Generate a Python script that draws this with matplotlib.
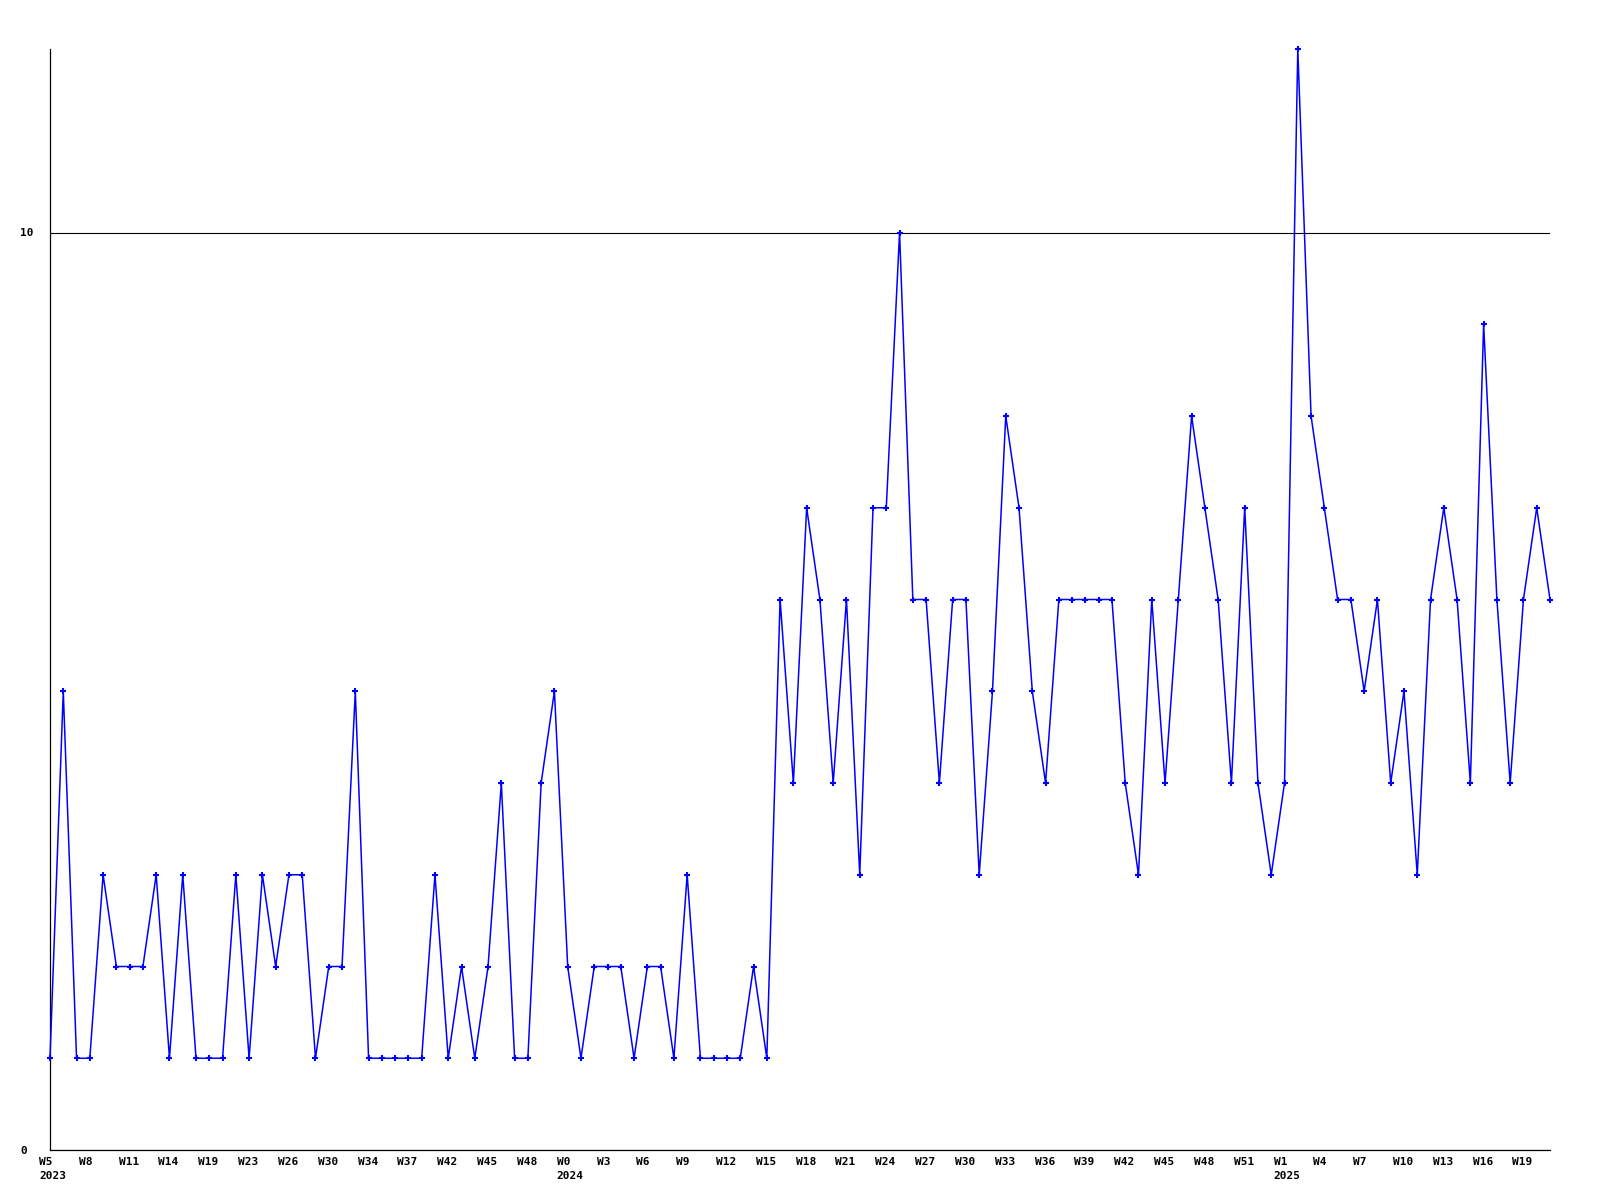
import matplotlib
matplotlib.use("Agg")
import matplotlib.pyplot as plt
from matplotlib.transforms import ScaledTranslation

# ---- data -------------------------------------------------------------
values = [1, 5, 1, 1, 3, 2, 2, 2, 3, 1,
          3, 1, 1, 1, 3, 1, 3, 2, 3, 3,
          1, 2, 2, 5, 1, 1, 1, 1, 1, 3,
          1, 2, 1, 2, 4, 1, 1, 4, 5, 2,
          1, 2, 2, 2, 1, 2, 2, 1, 3, 1,
          1, 1, 1, 2, 1, 6, 4, 7, 6, 4,
          6, 3, 7, 7, 10, 6, 6, 4, 6, 6,
          3, 5, 8, 7, 5, 4, 6, 6, 6, 6,
          6, 4, 3, 6, 4, 6, 8, 7, 6, 4,
          7, 4, 3, 4, 12, 8, 7, 6, 6, 5,
          6, 4, 5, 3, 6, 7, 6, 4, 9, 6,
          4, 6, 7, 6]

tick_labels = ["W5\n2023", "W8", "W11", "W14", "W19", "W23", "W26", "W30",
               "W34", "W37", "W42", "W45", "W48", "W0\n2024", "W3", "W6",
               "W9", "W12", "W15", "W18", "W21", "W24", "W27", "W30", "W33",
               "W36", "W39", "W42", "W45", "W48", "W51", "W1\n2025", "W4",
               "W7", "W10", "W13", "W16", "W19"]
ytick_values = [0, 10]
ytick_labels = ["0", "10"]

# ---- figure -----------------------------------------------------------
fig = plt.figure(figsize=(16, 12), dpi=100)
ax = fig.add_axes([50 / 1600, 1 - 1150 / 1200, 1500 / 1600, 1101 / 1200])

x = list(range(len(values)))
ax.plot(x, values, color="#0000ff", lw=1.1, marker="+", ms=3.8, mew=1.5,
        clip_on=False, zorder=3)

ax.set_xlim(0, len(values) - 1)
ax.set_ylim(0, 12)

font = dict(family="DejaVu Sans Mono", weight="bold", size=8)

ax.set_xticks(x[::3])
ax.set_xticklabels(tick_labels, ha="left", va="top", linespacing=1.45, **font)
ax.set_yticks(ytick_values)
ax.set_yticklabels(ytick_labels, ha="left", **font)

ax.tick_params(axis="x", length=0, pad=5)
ax.tick_params(axis="y", length=0, pad=21.6)

off = ScaledTranslation(-11 / 100, 0, fig.dpi_scale_trans)
for lab in ax.get_xticklabels():
    lab.set_transform(lab.get_transform() + off)

ax.yaxis.grid(True, color="black", lw=0.8)
ax.set_axisbelow(True)

for s in ("top", "right"):
    ax.spines[s].set_visible(False)
for s in ("left", "bottom"):
    ax.spines[s].set_color("black")
    ax.spines[s].set_linewidth(0.9)

fig.savefig("out.png", dpi=100, facecolor="white")
